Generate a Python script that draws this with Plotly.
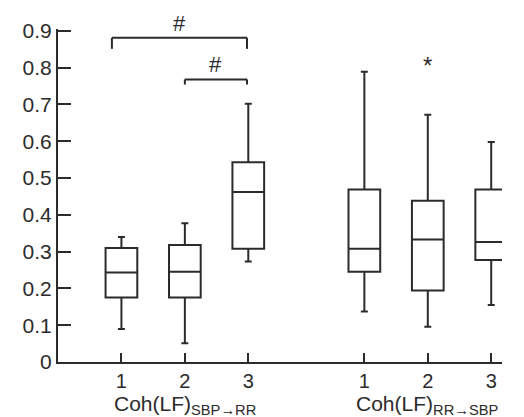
import plotly.graph_objects as go

# ---- data ----
positions = [1, 2, 3, 4.83, 5.83, 6.83]
tick_labels = ["1", "2", "3", "1", "2", "3"]
upper_fence = [0.340, 0.377, 0.702, 0.789, 0.672, 0.598]
q3_values = [0.310, 0.318, 0.543, 0.469, 0.438, 0.469]
medians = [0.243, 0.245, 0.462, 0.308, 0.333, 0.326]
q1_values = [0.175, 0.175, 0.308, 0.245, 0.194, 0.277]
lower_fence = [0.090, 0.051, 0.273, 0.137, 0.096, 0.155]
y_ticks = [0, 0.1, 0.2, 0.3, 0.4, 0.5, 0.6, 0.7, 0.8, 0.9]
y_tick_labels = ["0", "0.1", "0.2", "0.3", "0.4", "0.5", "0.6", "0.7", "0.8", "0.9"]
group_labels = ["Coh(LF)<sub>SBP\u2192RR</sub>", "Coh(LF)<sub>RR\u2192SBP</sub>"]
group_centers = [2, 5.83]
# significance brackets: (x_start, x_end, y_level, label)
brackets = [(0.85, 2.98, 0.881, "#"), (2.0, 2.98, 0.768, "#")]
star_marks = [(5.83, 0.805, "*")]

INK = "#2b2b2b"
FONT = "Liberation Sans, Arial, sans-serif"
FS = 21

fig = go.Figure()
fig.add_trace(go.Box(
    x=positions, q1=q1_values, median=medians, q3=q3_values,
    lowerfence=lower_fence, upperfence=upper_fence,
    width=0.5, whiskerwidth=0.22,
    fillcolor="white", line=dict(color=INK, width=2),
    boxpoints=False, hoverinfo="skip", showlegend=False,
))

for x0, x1, y, lab in brackets:
    drop = 0.014 if y < 0.8 else 0.03
    fig.add_shape(type="line", x0=x0, x1=x0, y0=y - drop, y1=y, line=dict(color=INK, width=2))
    fig.add_shape(type="line", x0=x0, x1=x1, y0=y, y1=y, line=dict(color=INK, width=2))
    fig.add_shape(type="line", x0=x1, x1=x1, y0=y - drop, y1=y, line=dict(color=INK, width=2))
    fig.add_annotation(x=(x0 + x1) / 2, y=y, text=lab, showarrow=False, yanchor="bottom",
                       yshift=0, font=dict(size=22, color=INK, family=FONT))

for x, y, lab in star_marks:
    fig.add_annotation(x=x, y=y, text=lab, showarrow=False,
                       font=dict(size=24, color=INK, family=FONT))

for xc, lab in zip(group_centers, group_labels):
    fig.add_annotation(x=xc, y=0, yref="y", text=lab, showarrow=False, yanchor="top",
                       yshift=-28, font=dict(size=21, color=INK, family=FONT))

fig.update_layout(
    width=524, height=417,
    margin=dict(l=58, r=22, t=29, b=55),
    paper_bgcolor="white", plot_bgcolor="white",
    font=dict(family=FONT, size=FS, color=INK),
    xaxis=dict(range=[0, 7.0], tickmode="array", tickvals=positions, ticktext=tick_labels,
               showline=True, linecolor=INK, linewidth=2, ticks="inside", ticklen=9,
               tickwidth=2, tickcolor=INK, showgrid=False, zeroline=False,
               tickfont=dict(size=20, color=INK, family=FONT)),
    yaxis=dict(range=[0, 0.905], tickmode="array", tickvals=y_ticks, ticktext=y_tick_labels,
               showline=True, linecolor=INK, linewidth=2, ticks="inside", ticklen=13,
               tickwidth=2, tickcolor=INK, showgrid=False, zeroline=False,
               tickfont=dict(size=FS, color=INK, family=FONT)),
)

fig.write_html("out.html")
